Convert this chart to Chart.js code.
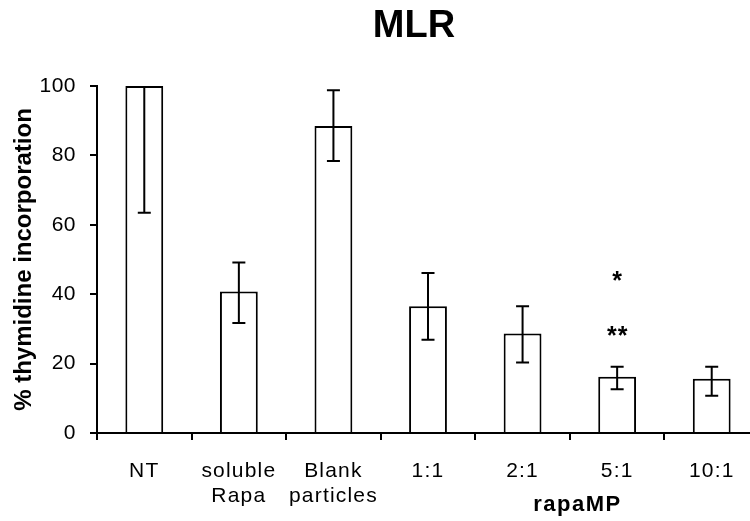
<!DOCTYPE html>
<html>
<head>
<meta charset="utf-8">
<title>MLR</title>
<script src="https://cdn.jsdelivr.net/npm/chart.js@4.4.1/dist/chart.umd.min.js"></script>
<style>
  html, body { margin: 0; padding: 0; background: #ffffff; overflow: hidden; }
  #wrap { width: 750px; height: 521px; overflow: hidden; }
  canvas { display: block; }
</style>
</head>
<body>
<div id="wrap"><canvas id="c" width="762" height="521"></canvas></div>
<script>
// Categories (multi-line labels as arrays)
const categories = ['NT', ['soluble', 'Rapa'], ['Blank', 'particles'], '1:1', '2:1', '5:1', '10:1'];
// Mean % thymidine incorporation
const meanValues = [100, 40.8, 88.5, 36.5, 28.7, 16.2, 15.6];
// Error bar limits
const errUpper = [100, 49.1, 98.8, 46.1, 36.5, 19.1, 19.1];
const errLower = [63.5, 31.7, 78.4, 26.9, 20.3, 12.6, 10.7];
// Significance marks: [category index, y value, text]
const sigMarks = [[5, 44.5, '*'], [5, 28.7, '**']];
const yTicks = [0, 20, 40, 60, 80, 100];

const FONT = "'Liberation Sans', Arial, Helvetica, sans-serif";

// Wrap a scale's label drawing so its text gets a little tracking
function spacedLabels(spacing) {
  return function (scale) {
    if (scale._spacedPatched) return;
    const orig = scale.drawLabels.bind(scale);
    scale.drawLabels = function (area) {
      const c = this.ctx;
      c.save();
      c.letterSpacing = spacing;
      orig(area);
      c.restore();
    };
    scale._spacedPatched = true;
  };
}

const extrasPlugin = {
  id: 'extras',
  afterDatasetsDraw(chart) {
    const ctx = chart.ctx;
    const x = chart.scales.x, y = chart.scales.y;
    ctx.save();
    ctx.strokeStyle = '#000';
    ctx.lineWidth = 2;
    const cap = 6.5;
    for (let i = 0; i < meanValues.length; i++) {
      const px = x.getPixelForValue(i);
      const yHi = y.getPixelForValue(errUpper[i]);
      const yLo = y.getPixelForValue(errLower[i]);
      ctx.beginPath();
      ctx.moveTo(px, yHi); ctx.lineTo(px, yLo);
      if (errUpper[i] < y.max) { ctx.moveTo(px - cap, yHi); ctx.lineTo(px + cap, yHi); }
      ctx.moveTo(px - cap, yLo); ctx.lineTo(px + cap, yLo);
      ctx.stroke();
    }
    // significance asterisks
    ctx.fillStyle = '#000';
    ctx.textAlign = 'center';
    ctx.textBaseline = 'middle';
    ctx.font = 'bold 25px ' + FONT;
    ctx.letterSpacing = '1px';
    sigMarks.forEach(([idx, v, t]) => {
      ctx.fillText(t, x.getPixelForValue(idx) + 0.5, y.getPixelForValue(v) + 4);
    });
    ctx.restore();
  },
  afterDraw(chart) {
    const ctx = chart.ctx;
    const x = chart.scales.x;
    ctx.save();
    ctx.fillStyle = '#000';
    ctx.textAlign = 'center';
    ctx.textBaseline = 'middle';
    // chart title
    ctx.font = 'bold 38px ' + FONT;
    ctx.fillText('MLR', 414, 27);
    // group label under the rapaMP ratios
    ctx.font = 'bold 22px ' + FONT;
    ctx.letterSpacing = '1.5px';
    ctx.fillText('rapaMP', x.getPixelForValue(4.58), 505);
    ctx.restore();
  }
};

new Chart(document.getElementById('c'), {
  type: 'bar',
  data: {
    labels: categories,
    datasets: [{
      data: meanValues,
      backgroundColor: '#ffffff',
      borderColor: '#000000',
      borderWidth: 2,
      categoryPercentage: 1.0,
      barPercentage: 0.40
    }]
  },
  options: {
    responsive: false,
    animation: false,
    events: [],
    layout: { padding: { left: 0, right: 3, top: 86, bottom: 0 } },
    plugins: { legend: { display: false }, tooltip: { enabled: false }, title: { display: false } },
    scales: {
      x: {
        offset: true,
        grid: { display: true, drawOnChartArea: false, drawTicks: true, tickLength: 7, color: '#000', lineWidth: 2, offset: true },
        border: { display: true, color: '#000', width: 2 },
        ticks: {
          color: '#000',
          font: { family: FONT, size: 21, lineHeight: 1.22 },
          padding: 18,
          maxRotation: 0, minRotation: 0,
          autoSkip: false
        },
        afterFit(scale) { scale.height = 88; },
        afterUpdate: spacedLabels('1.2px')
      },
      y: {
        min: 0, max: 100,
        afterBuildTicks(scale) { scale.ticks = yTicks.map(v => ({ value: v })); },
        grid: { display: true, drawOnChartArea: false, drawTicks: true, tickLength: 7, color: '#000', lineWidth: 2 },
        border: { display: true, color: '#000', width: 2 },
        ticks: {
          color: '#000',
          font: { family: FONT, size: 21 },
          padding: 14
        },
        title: {
          display: true,
          text: '% thymidine incorporation',
          color: '#000',
          font: { family: FONT, size: 24, weight: 'bold' },
          padding: { top: 10, bottom: 0 }
        },
        afterFit(scale) { scale.width = 97; },
        afterUpdate: spacedLabels('0.5px')
      }
    }
  },
  plugins: [extrasPlugin]
});
</script>
</body>
</html>
